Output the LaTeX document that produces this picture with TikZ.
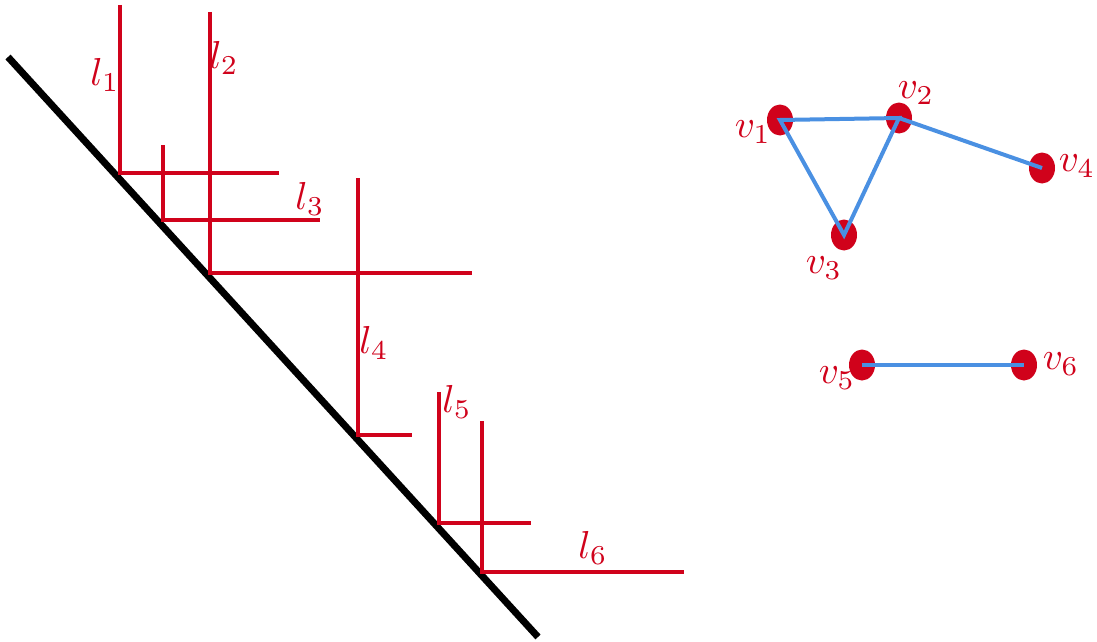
\documentclass[tikz,border=0pt]{standalone}
\usetikzlibrary{shapes.geometric}
\definecolor{myred}{RGB}{208,2,27}
\definecolor{myblue}{RGB}{74,144,226}
\tikzset{
  redline/.style={myred, line width=4pt},
  blackline/.style={black, line width=7pt},
  edgeline/.style={myblue, line width=4pt},
  vert/.style={ellipse, fill=myred, minimum width=26pt, minimum height=31pt, inner sep=0pt},
  lab/.style={text=myred, inner sep=0pt, scale=3.9},
}
\begin{document}
\begin{tikzpicture}[x=1pt,y=-1pt]
\useasboundingbox (0,0) rectangle (1097,642);
% black diagonal
\coordinate (bA) at (8,57);
\coordinate (bB) at (538,637);
\draw[blackline] (bA) -- (bB);
% red staircase lines
\coordinate (l1t) at (120,5);   \coordinate (l1c) at (120,173); \coordinate (l1r) at (279,173);
\coordinate (l3t) at (163,145); \coordinate (l3c) at (163,220); \coordinate (l3r) at (320,220);
\coordinate (l2t) at (210,12);  \coordinate (l2c) at (210,273); \coordinate (l2r) at (472,273);
\coordinate (l4t) at (358,178); \coordinate (l4c) at (358,435); \coordinate (l4r) at (412,435);
\coordinate (l5t) at (439,392); \coordinate (l5c) at (439,523); \coordinate (l5r) at (531,523);
\coordinate (l6t) at (482,421); \coordinate (l6c) at (482,572); \coordinate (l6r) at (684,572);
\draw[redline] (l1t) -- (l1c) -- (l1r);
\draw[redline] (l3t) -- (l3c) -- (l3r);
\draw[redline] (l2t) -- (l2c) -- (l2r);
\draw[redline] (l4t) -- (l4c) -- (l4r);
\draw[redline] (l5t) -- (l5c) -- (l5r);
\draw[redline] (l6t) -- (l6c) -- (l6r);
% line labels
\node[lab] (L1) at (105,75) {$l_1$};
\node[lab] (L2) at (224,58) {$l_2$};
\node[lab] (L3) at (310,199) {$l_3$};
\node[lab] (L4) at (374,343) {$l_4$};
\node[lab] (L5) at (457,402) {$l_5$};
\node[lab] (L6) at (593,548) {$l_6$};
% graph vertices
\node[vert] (v1) at (780,120) {};
\node[vert] (v2) at (899,118) {};
\node[vert] (v3) at (844,235) {};
\node[vert] (v4) at (1042,168) {};
\node[vert] (v5) at (862,365) {};
\node[vert] (v6) at (1024,365) {};
% edges
\draw[edgeline, line join=miter] (v1.center) -- (v2.center) -- (v3.center) -- cycle;
\draw[edgeline] (v2.center) -- (v4.center);
\draw[edgeline] (v5.center) -- (v6.center);
% vertex labels
\node[lab] (V1) at (753,132) {$v_1$};
\node[lab] (V2) at (916,93) {$v_2$};
\node[lab] (V3) at (824,268) {$v_3$};
\node[lab] (V4) at (1077,166) {$v_4$};
\node[lab] (V5) at (837,378) {$v_5$};
\node[lab] (V6) at (1061,364) {$v_6$};
\end{tikzpicture}
\end{document}
